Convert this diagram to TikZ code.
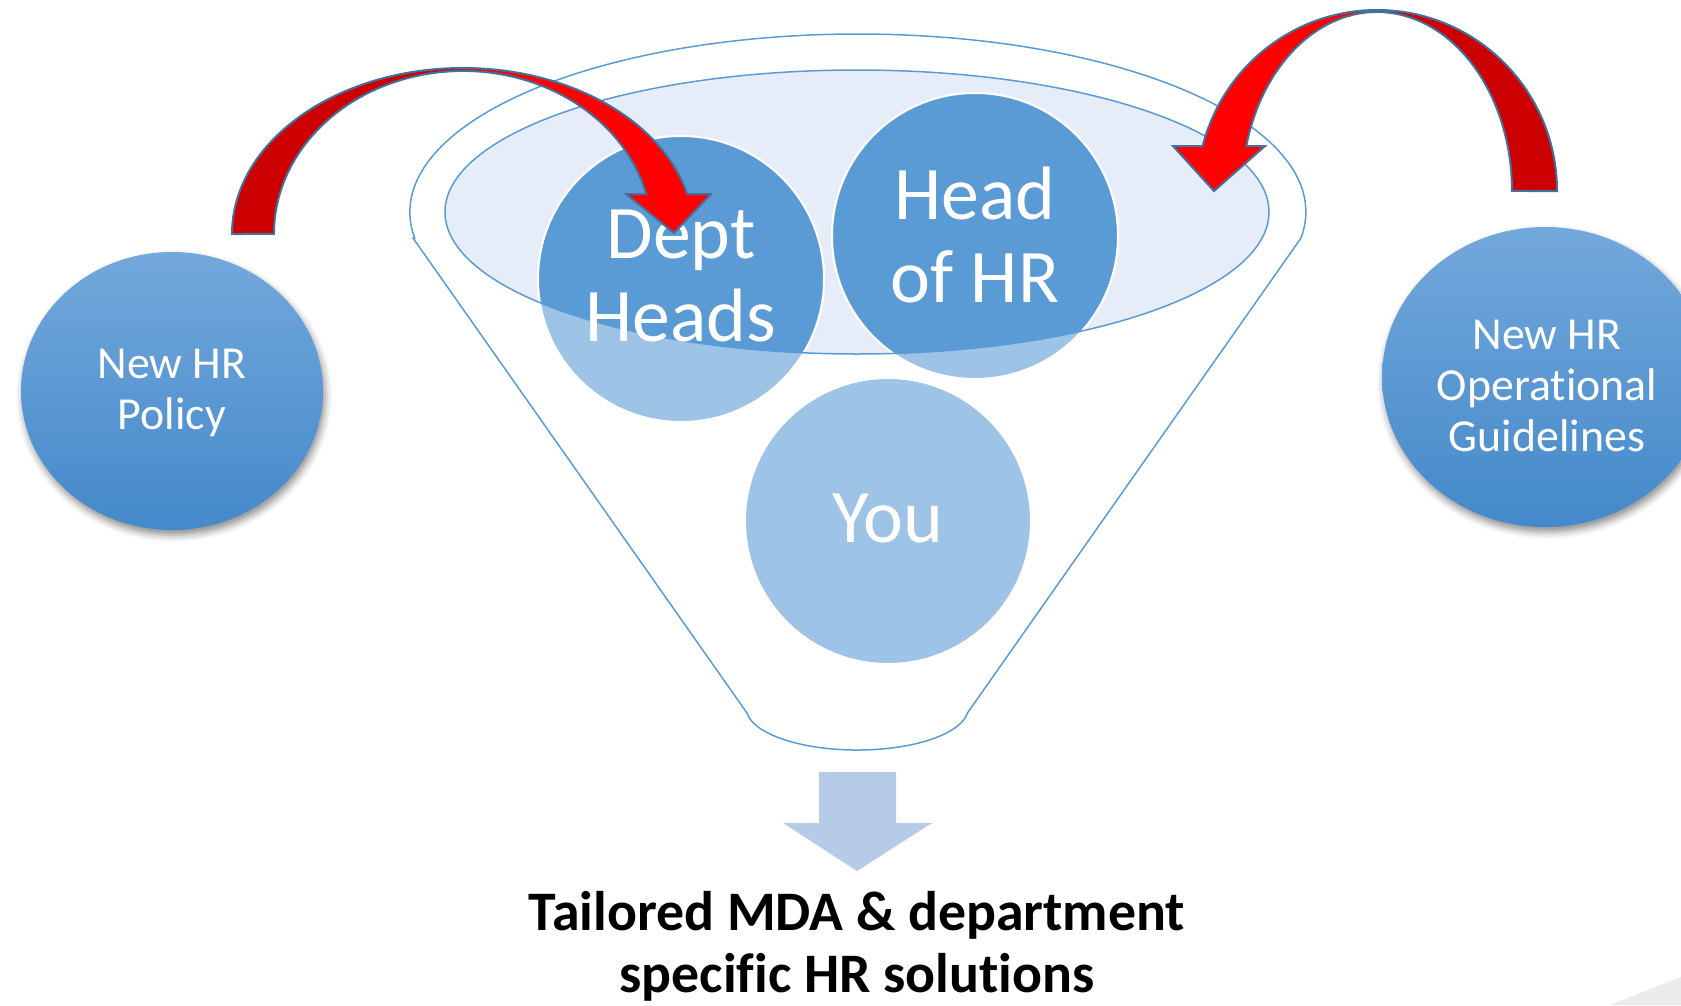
\documentclass[tikz,border=0pt]{standalone}
\usepackage{fontspec}
\setmainfont{Carlito}[Ligatures=NoCommon]
\usetikzlibrary{shapes.geometric,shadows.blur}

\definecolor{funnelline}{RGB}{91,155,213}
\definecolor{rimfill}{RGB}{230,237,248}
\definecolor{darkdisc}{RGB}{91,155,213}
\definecolor{lightdisc}{RGB}{157,195,230}
\definecolor{sidetop}{RGB}{115,168,220}
\definecolor{sidebot}{RGB}{68,137,202}
\definecolor{outarrow}{RGB}{182,203,232}
\definecolor{redbright}{RGB}{255,0,0}
\definecolor{reddark}{RGB}{204,0,0}
\definecolor{arrowline}{RGB}{65,113,156}

\begin{document}
\begin{tikzpicture}[x=1bp,y=1bp,
  funnel/.style={draw=funnelline, line width=1.5bp},
  disc/.style={circle, minimum size=286bp, inner sep=0pt, fill=lightdisc, draw=white, line width=2bp},
  disclabel/.style={text=white, align=center, inner sep=0pt, font=\fontsize{76}{83}\selectfont},
  sidedisc/.style={ellipse, inner sep=0pt, top color=sidetop, bottom color=sidebot,
    blur shadow={shadow xshift=2bp, shadow yshift=-5bp, shadow blur radius=7bp, shadow opacity=45}},
  sidelabel/.style={text=white, align=center, inner sep=0pt, font=\fontsize{46}{51}\selectfont},
  rededge/.style={draw=arrowline, line width=2bp, line join=miter},
  result/.style={align=center, inner sep=0pt, font=\fontsize{56}{62}\selectfont\bfseries}]

\useasboundingbox (0,0) rectangle (1681,-1005);

% faint corner of the slide background
\fill[black!8] (1610,-1005) -- (1681,-977) -- (1681,-1005) -- cycle;

% funnel body: outer rim, straight sides and spout
\draw[funnel] (413,-238) -- (747,-713)
  arc[start angle=186.8, end angle=353.2, x radius=111, y radius=42]
  -- (1301,-238)
  arc[start angle=-8.4, end angle=188.4, x radius=448, y radius=178] -- cycle;

% inner mouth of the funnel
\fill[rimfill] (857,-212) ellipse [x radius=412, y radius=142];

% discs inside the funnel
\node[disc] (dept) at (681,-279) {};
\node[disc] (head) at (975,-236) {};
\node[disc] (you)  at (888,-521) {};

% the parts of the discs inside the mouth are darker
\begin{scope}
  \clip (857,-212) ellipse [x radius=412, y radius=142];
  \fill[darkdisc, draw=white, line width=2bp] (dept.center) circle[radius=143];
  \fill[darkdisc, draw=white, line width=2bp] (head.center) circle[radius=143];
\end{scope}
\draw[funnel] (857,-212) ellipse [x radius=412, y radius=142];

\node[disclabel] (deptlbl) at (681,-276) {Dept\\Heads};
\node[disclabel] (headlbl) at (975,-235) {Head\\of HR};
\node[disclabel] (youlbl)  at (888,-518) {You};

% inputs on either side
\node[sidedisc, minimum width=302bp, minimum height=278bp] (policy) at (172,-391) {};
\node[sidelabel] (policylbl) at (172,-393) {New HR\\Policy};
\node[sidedisc, minimum width=326bp, minimum height=300bp] (guide) at (1545,-377) {};
\node[sidelabel] (guidelbl) at (1547,-386) {New HR\\Operational\\Guidelines};

% output arrow and result
\fill[outarrow] (819,-772) -- (896,-772) -- (896,-823) -- (932,-823) -- (857,-871)
  -- (783,-823) -- (819,-823) -- cycle;
\node[result] (outcome) at (857,-946) {Tailored MDA \& department\\specific HR solutions};

% curved arrow from the policy into the funnel
\fill[reddark] (232,-234) arc[start angle=180, end angle=90, x radius=231, y radius=166]
  -- (463,-71) arc[start angle=90, end angle=180, x radius=189, y radius=163] -- cycle;
\fill[redbright] (463,-68) arc[start angle=90, end angle=13.94, x radius=231, y radius=166]
  -- (711,-194) -- (674,-233) -- (626,-194) -- (646.2,-194)
  arc[start angle=14.2, end angle=90, x radius=189, y radius=163] -- cycle;
\draw[rededge] (232,-234) arc[start angle=180, end angle=13.94, x radius=231, y radius=166]
  -- (711,-194) -- (674,-233) -- (626,-194) -- (646.2,-194)
  arc[start angle=14.2, end angle=180, x radius=189, y radius=163] -- cycle;

% curved arrow from the guidelines into the funnel
\fill[reddark] (1557,-191) arc[start angle=0, end angle=90, x radius=180, y radius=181]
  -- (1377,-12) arc[start angle=90, end angle=0, x radius=135, y radius=179] -- cycle;
\fill[redbright] (1377,-10) arc[start angle=90, end angle=165.61, x radius=180, y radius=181]
  -- (1173,-146) -- (1214,-191) -- (1265,-146) -- (1246.3,-146)
  arc[start angle=165.44, end angle=90, x radius=135, y radius=179] -- cycle;
\draw[rededge] (1557,-191) arc[start angle=0, end angle=165.61, x radius=180, y radius=181]
  -- (1173,-146) -- (1214,-191) -- (1265,-146) -- (1246.3,-146)
  arc[start angle=165.44, end angle=0, x radius=135, y radius=179] -- cycle;

\end{tikzpicture}
\end{document}
